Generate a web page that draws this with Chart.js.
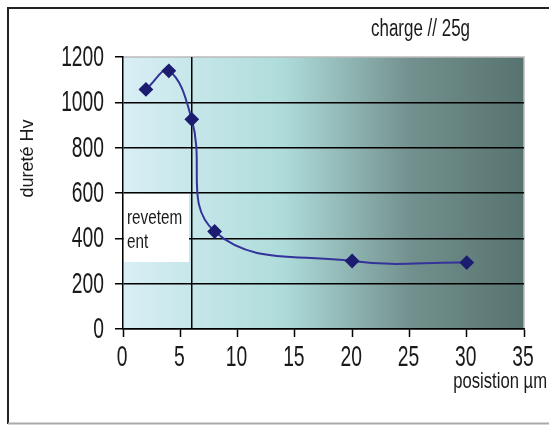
<!DOCTYPE html>
<html>
<head>
<meta charset="utf-8">
<script src="https://cdn.jsdelivr.net/npm/chart.js@4"></script>
<style>
  html, body { margin: 0; padding: 0; background: #fff; }
  #wrap { width: 549px; height: 425px; }
</style>
</head>
<body>
<div id="wrap"><canvas id="myChart" width="549" height="425"></canvas></div>
<script>
// measurements: position (µm) vs Vickers hardness
var positions = [2, 4, 6, 8, 20, 30];
var hardness = [1057, 1139, 925, 430, 300, 293];

// coating / substrate interface
var interfaceX = [6, 6];
var interfaceY = [0, 1200];

var xMax = 35, xStep = 5;
var yMax = 1200, yStep = 200;

var SANS = "'Liberation Sans', Arial, sans-serif";

// narrow, tall text (baseline at y)
function tallText(ctx, text, x, y, size, align, sx, sy) {
    ctx.save();
    ctx.font = size + 'px ' + SANS;
    ctx.fillStyle = '#1a1a1a';
    ctx.textAlign = align;
    ctx.textBaseline = 'alphabetic';
    ctx.translate(x, y);
    ctx.scale(sx, sy);
    ctx.fillText(text, 0, 0);
    ctx.restore();
}

var decor = {
    id: 'decor',
    beforeDraw: function (chart) {
        var c = chart.ctx, a = chart.chartArea;
        // outer frame
        c.save();
        c.strokeStyle = '#222';
        c.lineWidth = 2;
        c.beginPath();
        c.moveTo(8, 424); c.lineTo(8, 8); c.lineTo(549, 8);
        c.stroke();
        c.strokeStyle = '#aaa';
        c.beginPath(); c.moveTo(8, 423.5); c.lineTo(549, 423.5); c.stroke();
        // plot background
        var g = c.createLinearGradient(a.left, 0, a.right, 0);
        g.addColorStop(0, '#d9eff5');
        g.addColorStop(0.4, '#aedcdb');
        g.addColorStop(0.72, '#72908d');
        g.addColorStop(1, '#577370');
        c.fillStyle = g;
        c.fillRect(a.left, a.top, a.right - a.left, a.bottom - a.top);
        c.strokeStyle = '#bbb';
        c.lineWidth = 1.5;
        c.beginPath();
        c.moveTo(a.left, a.top); c.lineTo(a.right, a.top); c.lineTo(a.right, a.bottom);
        c.stroke();
        c.restore();
    },
    afterDatasetsDraw: function (chart) {
        var c = chart.ctx, a = chart.chartArea;
        // "revetement" text box
        c.save();
        c.fillStyle = '#fff';
        c.fillRect(a.left + 1, 194, 65, 68);
        c.restore();
        tallText(c, 'revetem', a.left + 4, 224, 14, 'left', 1.09, 1.5);
        tallText(c, 'ent', a.left + 4, 248, 14, 'left', 1.09, 1.5);
    },
    afterDraw: function (chart) {
        var c = chart.ctx;
        var xs = chart.scales.x, ys = chart.scales.y;
        ys.ticks.forEach(function (t) {
            tallText(c, String(t.value), 104, ys.getPixelForValue(t.value) + 9, 18, 'right', 1.07, 1.63);
        });
        xs.ticks.forEach(function (t) {
            tallText(c, String(t.value), xs.getPixelForValue(t.value) - 1, 366, 18, 'center', 1.07, 1.63);
        });
        tallText(c, 'charge // 25g', 470, 36, 16, 'right', 1.06, 1.52);
        tallText(c, 'posistion µm', 547, 388, 16, 'right', 1.04, 1.41);
        // axis title, rotated
        c.save();
        c.font = '18px ' + SANS;
        c.fillStyle = '#1a1a1a';
        c.textAlign = 'center';
        c.textBaseline = 'alphabetic';
        c.translate(33, 158.5);
        c.rotate(-Math.PI / 2);
        c.fillText('dureté Hv', 0, 0);
        c.restore();
    }
};

var ctx = document.getElementById('myChart').getContext('2d');
var myChart = new Chart(ctx, {
    type: 'line',
    data: {
        datasets: [{
            label: 'dureté',
            data: positions.map(function (p, i) { return {x: p, y: hardness[i]}; }),
            borderColor: '#333399',
            borderWidth: 2,
            backgroundColor: '#1c1c70',
            pointBackgroundColor: '#1c1c70',
            pointBorderColor: '#1c1c70',
            pointStyle: 'rectRot',
            pointRadius: 6,
            tension: 0.42,
            order: 0
        },
        {
            label: 'interface',
            data: interfaceX.map(function (v, i) { return {x: v, y: interfaceY[i]}; }),
            borderColor: '#000',
            borderWidth: 1.5,
            pointRadius: 0,
            tension: 0,
            order: 1
        }]
    },
    options: {
        responsive: false,
        animation: false,
        layout: {
            padding: {left: 115, right: 25, top: 57, bottom: 88}
        },
        plugins: {
            legend: {display: false},
            tooltip: {enabled: false}
        },
        scales: {
            x: {
                type: 'linear',
                min: 0,
                max: xMax,
                ticks: {stepSize: xStep, display: false},
                grid: {drawOnChartArea: false, tickLength: 8, tickColor: '#000', tickWidth: 1.5},
                border: {color: '#000', width: 1.5}
            },
            y: {
                min: 0,
                max: yMax,
                ticks: {stepSize: yStep, display: false},
                grid: {
                    color: function (c) { return c.tick && c.tick.value === yMax ? 'rgba(0,0,0,0)' : '#000'; },
                    lineWidth: 1.5,
                    tickLength: 8,
                    tickColor: '#000',
                    tickWidth: 1.5
                },
                border: {color: '#000', width: 1.5}
            }
        }
    },
    plugins: [decor]
});
</script>
</body>
</html>
